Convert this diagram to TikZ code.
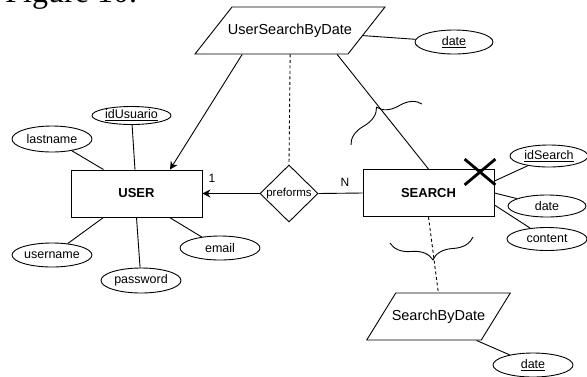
\documentclass[tikz,border=0pt]{standalone}
\usepackage{fontspec}
\setmainfont{Liberation Sans}
\newfontfamily\capfont{Liberation Serif}
\usetikzlibrary{shapes.geometric,shapes.misc,arrows.meta,decorations.pathreplacing}

\tikzset{
  attr/.style={draw,ellipse,inner sep=0pt,minimum width=80pt,minimum height=24pt,font=\fontsize{12.5}{14}\selectfont},
  entity/.style={draw,rectangle,minimum width=131pt,minimum height=47pt,font=\bfseries\fontsize{13}{15}\selectfont},
  rel/.style={draw,diamond,inner sep=0pt,minimum width=58pt,minimum height=57pt},
  reltext/.style={font=\fontsize{11.5}{13}\selectfont},
  view/.style={draw,trapezium,inner sep=0pt},
  viewtext/.style={font=\fontsize{14.5}{16}\selectfont},
  card/.style={font=\fontsize{12}{14}\selectfont,inner sep=0pt},
  dashlink/.style={dash pattern=on 3pt off 2.5pt},
  curly/.style={decorate,decoration={brace,amplitude=20pt}},
}
% empty body of a view box: width of the straight part, full height
\newcommand\viewbody[1]{\rule{0pt}{47pt}\hspace*{#1}}

\begin{document}
\begin{tikzpicture}[x=1pt,y=-1pt,line width=0.9pt]
  \useasboundingbox (0,0) rectangle (587,376);
  \clip (0,0) rectangle (587,376);

  % caption, mostly cut off at the top
  \node[anchor=base west,inner sep=0pt,font=\capfont\fontsize{32}{36}\selectfont] (cap) at (5,2.5) {Figure 10.};

  % entities and relationship
  \node[entity] (user) at (136.5,193.5) {USER};
  \node[entity] (search) at (428.5,193) {SEARCH};
  \node[rel,label={[reltext]center:preforms}] (act) at (289,193.5) {};

  % views
  \node[view,trapezium left angle=51.8,trapezium right angle=128.2,
        label={[viewtext]center:UserSearchByDate}] (ussd) at (290,30.5) {\viewbody{116pt}};
  \node[view,trapezium left angle=58.3,trapezium right angle=121.7,
        label={[viewtext]center:SearchByDate}] (sbd) at (438.5,316.5) {\viewbody{85.5pt}};

  % attributes
  \node[attr,minimum width=79pt,minimum height=18pt] (idu) at (131.5,115.5) {\underline{idUsuario}};
  \node[attr,minimum height=26pt] (ln) at (52,139) {lastname};
  \node[attr] (un) at (52,255) {username};
  \node[attr,minimum height=25pt] (pw) at (141,280.5) {password};
  \node[attr] (em) at (220,248) {email};
  \node[attr,minimum width=78pt] (d1) at (454,42) {\underline{date}};
  \node[attr,minimum width=78pt,minimum height=22pt] (ids) at (549,156) {\underline{idSearch}};
  \node[attr,minimum width=78pt,minimum height=22pt] (d2) at (547,206) {date};
  \node[attr,minimum height=23pt] (ct) at (547,239) {content};
  \node[attr] (d3) at (533,365) {\underline{date}};

  % cardinalities
  \node[card] (one) at (212,178) {1};
  \node[card] (many) at (345,182) {N};

  % deleted key
  \node[draw,cross out,line width=2.8pt,minimum width=28pt,minimum height=23pt,inner sep=0pt] (del) at (480,172) {};

  % links
  \draw[-{Stealth[length=8pt,width=8pt]}] (act.west) -- (user.east);
  \draw (act.east) -- (search.west);
  \draw[-{Stealth[length=8pt,width=8pt]}] ([xshift=-29pt]ussd.bottom side) -- ([xshift=33.5pt]user.north);
  \draw ([xshift=66pt]ussd.bottom side) -- (search.north);
  \draw[dashlink] ([xshift=19pt]ussd.bottom side) -- (act.north);
  \draw (ussd) -- (d1);
  \draw[dashlink] (search.south) -- ([xshift=-15pt]sbd.top side);
  \draw ([xshift=-5pt]sbd.bottom right corner) -- (d3);

  \draw (idu) -- (user);
  \draw (ln) -- ([xshift=-33pt]user.north);
  \draw (un) -- ([xshift=-33pt]user.south);
  \draw (user.south) -- (pw);
  \draw ([xshift=33pt]user.south) -- (em);
  \draw ([yshift=12pt]search.east) -- (ids);
  \draw (search.east) -- (d2);
  \draw ([yshift=-12pt]search.east) -- (ct);

  % braces
  \coordinate (b1a) at (351,145);
  \coordinate (b1b) at (422,104);
  \coordinate (b2a) at (473,237);
  \coordinate (b2b) at (390,243);
  \draw[curly] (b1a) -- (b1b);
  \draw[curly] (b2a) -- (b2b);
\end{tikzpicture}
\end{document}
